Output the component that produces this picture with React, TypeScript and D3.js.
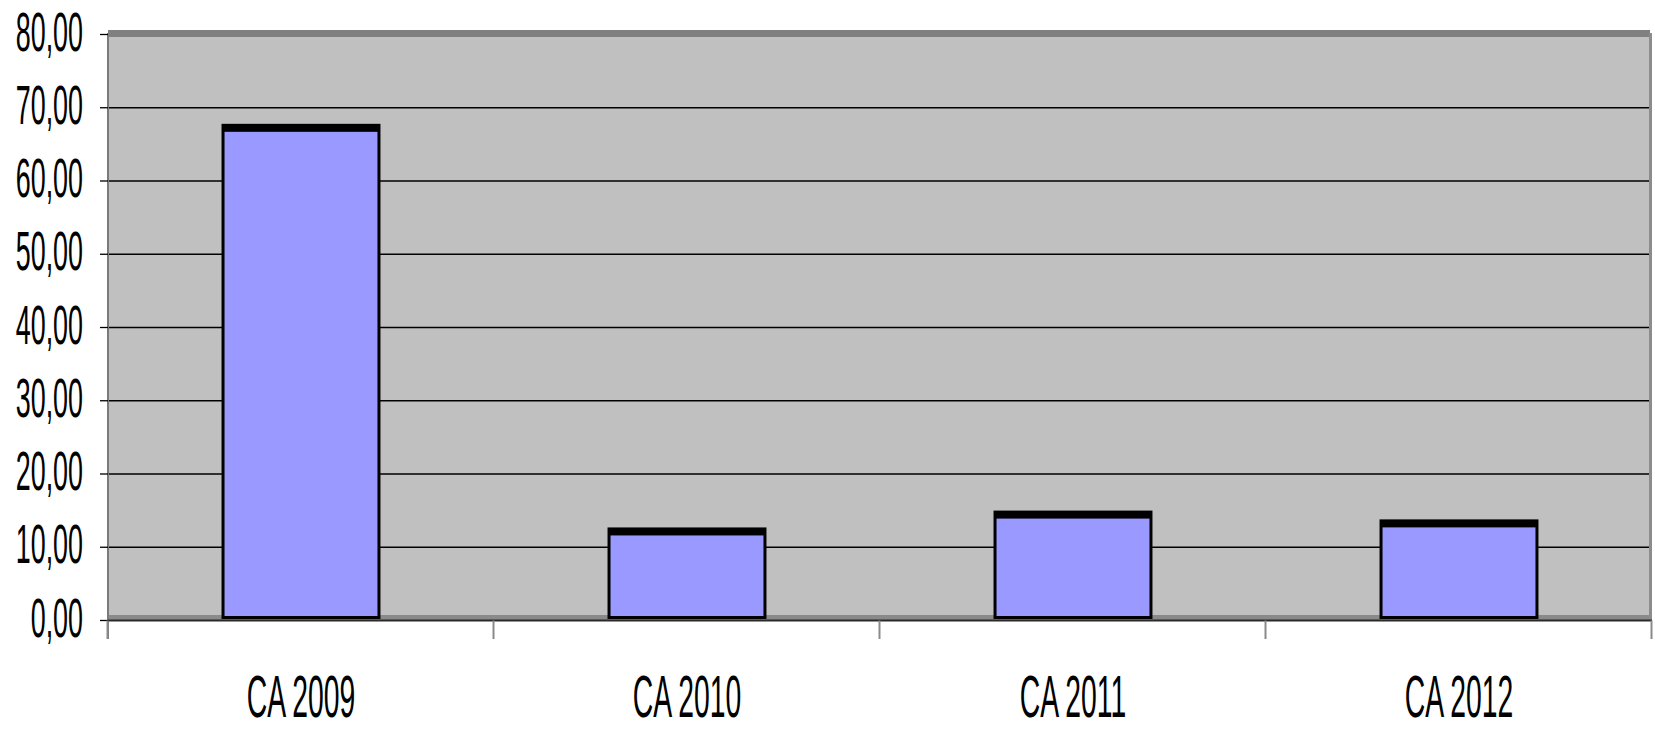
import React from "react";
import * as d3 from "d3";

const categories = ["CA 2009", "CA 2010", "CA 2011", "CA 2012"];
const values = [67.6, 12.5, 14.8, 13.6];
const yTicks = [0, 10, 20, 30, 40, 50, 60, 70, 80];
const fmt = (v: number) => v.toFixed(2).replace(".", ",");

export default function App() {
  const W = 1655, H = 730;
  const left = 108, right = 1652, top = 34.5, bottom = 620.5;
  const x = d3.scaleBand<string>().domain(categories).range([left, right]).padding(0);
  const y = d3.scaleLinear().domain([0, 80]).range([bottom, top]);
  const barW = x.bandwidth() * 0.404;
  const floorY = 617.5;
  const sx = 0.48;
  const font = "'Liberation Sans', Arial, sans-serif";

  return (
    <svg width={W} height={H} style={{ position: "absolute", left: 0, top: 0, display: "block" }}>
      <rect x={0} y={0} width={W} height={H} fill="#fff" />
      {/* plot area */}
      <rect x={left} y={y(80)} width={1649 - left} height={bottom - y(80)} fill="#C0C0C0" />
      {/* top band */}
      <rect x={left} y={30} width={1650 - left} height={7} fill="#808080" />
      {/* right edge */}
      <rect x={1649} y={33} width={3} height={bottom - 33} fill="#8c8c8c" />
      {/* floor band */}
      <rect x={left} y={615} width={1650 - left} height={5} fill="#8a8a8a" />
      {/* gridlines */}
      {yTicks.filter(t => t > 0 && t < 80).map(t => (
        <line key={t} x1={left} x2={1649} y1={y(t)} y2={y(t)} stroke="#000" strokeWidth={1.3} />
      ))}
      {/* y axis */}
      <line x1={left} x2={left} y1={33} y2={639} stroke="#7a7a7a" strokeWidth={2} />
      {yTicks.map(t => (
        <line key={t} x1={100} x2={left} y1={y(t)} y2={y(t)} stroke="#000" strokeWidth={1.3} />
      ))}
      {/* x axis */}
      <line x1={left} x2={right} y1={bottom} y2={bottom} stroke="#2a2a2a" strokeWidth={2} />
      {[...categories.map(c => x(c)!), right].map((px, i) => (
        <line key={i} x1={px - 0.5} x2={px - 0.5} y1={bottom} y2={639} stroke="#8a8a8a" strokeWidth={2} />
      ))}
      {/* bars */}
      {categories.map((c, i) => {
        const cx = x(c)! + x.bandwidth() / 2;
        const x0 = cx - barW / 2;
        const yt = y(values[i]);
        return (
          <g key={c}>
            <rect x={x0} y={yt} width={barW} height={floorY - yt} fill="#9999FF" stroke="#000" strokeWidth={3} />
            <rect x={x0} y={yt} width={barW} height={6.5} fill="#000" />
          </g>
        );
      })}
      {/* y labels */}
      {yTicks.map(t => (
        <g key={t} transform={`translate(83,${y(t) + 16})`}>
          <text transform={`scale(${sx},1)`} textAnchor="end" fontFamily={font} fontSize={56} fill="#000">
            {fmt(t)}
          </text>
        </g>
      ))}
      {/* x labels */}
      {categories.map(c => (
        <g key={c} transform={`translate(${x(c)! + x.bandwidth() / 2},717)`}>
          <text transform={`scale(${sx},1)`} textAnchor="middle" fontFamily={font} fontSize={59} fill="#000">
            {c}
          </text>
        </g>
      ))}
    </svg>
  );
}
